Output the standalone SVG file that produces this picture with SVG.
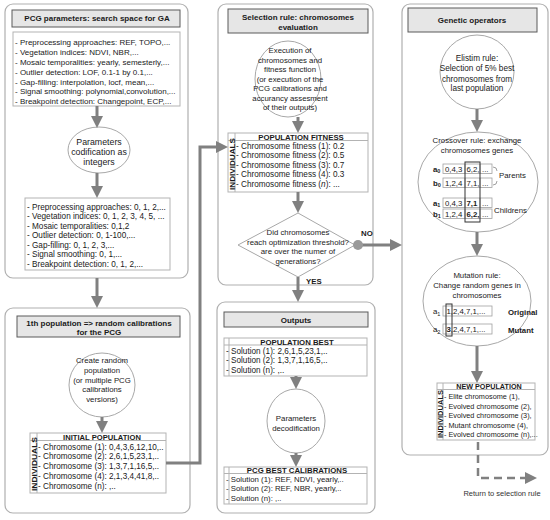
<svg xmlns="http://www.w3.org/2000/svg" width="550" height="520" viewBox="0 0 550 520">
<style>
text{font-family:"Liberation Sans",Arial,sans-serif;font-size:7.8px;fill:#1a1a1a}
.b{font-weight:bold}
.t{font-weight:bold;font-size:8px}
.c{text-anchor:middle}
.l1{font-size:8px}
.l2{font-size:8.2px}
.panel{fill:#fff;stroke:#b0b0b0;stroke-width:1.2}
.title{fill:#e6e6e6;stroke:#5a5a5a;stroke-width:1}
.box{fill:#fff;stroke:#b3b3b3;stroke-width:1}
.grid{stroke:#b3b3b3;stroke-width:1;fill:none}
.circ{fill:#fff;stroke:#a8a8a8;stroke-width:1}
.conn{stroke:#808080;stroke-width:3;fill:none}
.dash{stroke:#808080;stroke-width:2.5;fill:none;stroke-dasharray:8 5}
.gene{fill:#fff;stroke:#a0a0a0;stroke-width:0.8}
.hl{fill:none;stroke:#333;stroke-width:1}
.ind{font-weight:bold;font-size:8px;text-anchor:middle}
.sub{font-size:5.5px}
</style>
<defs>
<marker id="ah" markerUnits="userSpaceOnUse" markerWidth="12" markerHeight="12" viewBox="0 0 12 12" refX="3" refY="6" orient="auto">
<path d="M0,0 L12,6 L0,12 z" fill="#808080"/>
</marker>
</defs>

<g id="panel-params">
<rect class="panel" x="5" y="4" width="183" height="274" rx="8"/>
<rect class="title" x="12" y="10" width="168" height="17"/>
<text class="t c" x="97" y="21">PCG parameters: search space for GA</text>
</g>
<g id="params-list">
<rect class="box" x="13" y="32" width="167" height="74"/>
<text class="l1" x="15" y="45">- Preprocessing approaches: REF, TOPO,...</text>
<text class="l1" x="15" y="55">- Vegetation indices: NDVI, NBR,...</text>
<text class="l1" x="15" y="65">- Mosaic temporalities: yearly, semesterly,...</text>
<text class="l1" x="15" y="74.5">- Outlier detection: LOF, 0.1-1 by 0.1,...</text>
<text class="l1" x="15" y="84.5">- Gap-filling: interpolation, locf, mean,...</text>
<text class="l1" x="15" y="94">- Signal smoothing: polynomial,convolution,...</text>
<text class="l1" x="15" y="103.5">- Breakpoint detection: Changepoint, ECP,...</text>
</g>
<g id="codification">
<ellipse class="circ" cx="99" cy="150" rx="31" ry="23"/>
<text class="c" x="99" y="145" style="font-size:8.8px">Parameters</text>
<text class="c" x="99" y="155" style="font-size:8.8px">codification as</text>
<text class="c" x="99" y="165" style="font-size:8.8px">integers</text>
</g>
<g id="params-codes">
<rect class="box" x="25" y="198" width="145" height="72"/>
<text class="l2" x="27" y="210">- Preprocessing approaches: 0, 1, 2,...</text>
<text class="l2" x="27" y="219">- Vegetation indices: 0, 1, 2, 3, 4, 5, ...</text>
<text class="l2" x="27" y="228.5">- Mosaic temporalities: 0,1,2</text>
<text class="l2" x="27" y="238">- Outlier detection: 0, 1-100,...</text>
<text class="l2" x="27" y="247.5">- Gap-filling: 0, 1, 2, 3,...</text>
<text class="l2" x="27" y="257">- Signal smoothing: 0, 1,...</text>
<text class="l2" x="27" y="266.5">- Breakpoint detection: 0, 1, 2,...</text>
</g>

<g id="panel-first">
<rect class="panel" x="5" y="308" width="185" height="205" rx="8"/>
<rect class="title" x="17" y="316" width="163" height="21"/>
<text class="t c" x="99" y="326">1th population =&gt; random calibrations</text>
<text class="t c" x="99" y="335">for the PCG</text>
</g>
<g id="create-random">
<ellipse class="circ" cx="102" cy="385" rx="33" ry="32"/>
<text class="c" x="102" y="363">Create random</text>
<text class="c" x="102" y="373">population</text>
<text class="c" x="102" y="382.5">(or multiple PCG</text>
<text class="c" x="102" y="392">calibrations</text>
<text class="c" x="102" y="401.5">versions)</text>
</g>
<g id="initial-population">
<rect class="box" x="30" y="433" width="136" height="60"/>
<path class="grid" d="M30,440.5 H166 M37,433 V493"/>
<text class="b c" x="102" y="440" style="font-size:7.6px">INITIAL POPULATION</text>
<text class="ind" transform="translate(36.5,464) rotate(-90)" textLength="54" lengthAdjust="spacingAndGlyphs">INDIVIDUALS</text>
<text class="l2" x="38" y="449.5">- Chromosome (1): 0,4,3,6,12,10,..</text>
<text class="l2" x="38" y="459">- Chromosome (2): 2,6,1,5,23,1,..</text>
<text class="l2" x="38" y="469">- Chromosome (3): 1,3,7,1,16,5,..</text>
<text class="l2" x="38" y="479">- Chromosome (4): 2,1,3,4,41,8,..</text>
<text class="l2" x="38" y="489">- Chromosome (n): ,..</text>
</g>

<g id="panel-selection">
<rect class="panel" x="218" y="4" width="155" height="281" rx="8"/>
<rect class="title" x="228" y="9" width="140" height="24"/>
<text class="t c" x="298" y="20">Selection rule: chromosomes</text>
<text class="t c" x="298" y="30">evaluation</text>
</g>
<g id="fitness-exec">
<ellipse class="circ" cx="288" cy="79" rx="33" ry="38"/>
<text class="c" x="290" y="53">Execution of</text>
<text class="c" x="290" y="62.5">chromosomes and</text>
<text class="c" x="290" y="72">fitness function</text>
<text class="c" x="290" y="81.5">(or execution of the</text>
<text class="c" x="290" y="91">PCG calibrations and</text>
<text class="c" x="290" y="100.5">accurancy assesment</text>
<text class="c" x="290" y="110">of their outputs)</text>
</g>
<g id="population-fitness">
<rect class="box" x="228" y="133" width="140" height="59"/>
<path class="grid" d="M228,140.5 H368 M235,133 V192"/>
<text class="b c" x="301" y="140">POPULATION FITNESS</text>
<text class="ind" transform="translate(234.5,164) rotate(-90)" textLength="52" lengthAdjust="spacingAndGlyphs">INDIVIDUALS</text>
<text class="l2" x="236" y="148.5">- Chromosome fitness (1): 0.2</text>
<text class="l2" x="236" y="158">- Chromosome fitness (2): 0.5</text>
<text class="l2" x="236" y="167.5">- Chromosome fitness (3): 0.7</text>
<text class="l2" x="236" y="177">- Chromosome fitness (4): 0.3</text>
<text class="l2" x="236" y="186.5">- Chromosome fitness (<tspan font-style="italic">n</tspan>): ...</text>
</g>
<g id="decision">
<polygon class="circ" points="298,213 355,245 298,277 238,245"/>
<text class="c" x="298" y="235">Did chromosomes</text>
<text class="c" x="298" y="244.5">reach optimization threshold?</text>
<text class="c" x="298" y="254">are over the numer of</text>
<text class="c" x="298" y="263.5">generations?</text>
</g>

<g id="panel-outputs">
<rect class="panel" x="217" y="302" width="158" height="211" rx="8"/>
<rect class="title" x="224" y="312" width="144" height="15"/>
<text class="t c" x="296" y="322.5">Outputs</text>
</g>
<g id="population-best">
<rect class="box" x="224" y="338" width="143" height="38"/>
<path class="grid" d="M224,345 H367 M229,338 V376"/>
<text class="b c" x="297" y="344.5">POPULATION BEST</text>
<text class="l2" x="226" y="353.5">- Solution (1): 2,6,1,5,23,1,..</text>
<text class="l2" x="226" y="363">- Solution (2): 1,3,7,1,16,5,..</text>
<text class="l2" x="226" y="372.5">- Solution (n): ,..</text>
</g>
<g id="decodification">
<ellipse class="circ" cx="296" cy="421" rx="29" ry="32"/>
<text class="c" x="296" y="421">Parameters</text>
<text class="c" x="296" y="431">decodification</text>
</g>
<g id="best-calibrations">
<rect class="box" x="224" y="467" width="143" height="37"/>
<path class="grid" d="M224,473.5 H367 M229,467 V504"/>
<text class="b c" x="297" y="473">PCG BEST CALIBRATIONS</text>
<text x="226" y="481.5">- Solution (1): REF, NDVI, yearly,..</text>
<text x="226" y="491">- Solution (2): REF, NBR, yearly,..</text>
<text x="226" y="500.5">- Solution (n): ,..</text>
</g>

<g id="panel-genetic">
<rect class="panel" x="402" y="4" width="146" height="451" rx="8"/>
<rect class="title" x="408" y="8" width="129" height="24"/>
<text class="t c" x="472" y="23">Genetic operators</text>
</g>
<g id="elitism">
<ellipse class="circ" cx="477" cy="72" rx="37" ry="37"/>
<text class="c l2" x="477" y="61">Elistim rule:</text>
<text class="c l2" x="477" y="71">Selection of 5% best</text>
<text class="c l2" x="477" y="81.5">chromosomes from</text>
<text class="c l2" x="477" y="91">last population</text>
</g>
<g id="crossover">
<ellipse class="circ" cx="478" cy="182" rx="60" ry="50"/>
<text class="c" x="477" y="143">Crossover rule: exchange</text>
<text class="c" x="477" y="153">chromosomes genes</text>
<rect class="gene" x="443" y="164" width="49" height="9.5"/>
<rect class="gene" x="443" y="178" width="49" height="9.5"/>
<rect class="gene" x="443" y="198" width="49" height="9.5"/>
<rect class="gene" x="443" y="209" width="49" height="9.5"/>
<path class="gene" d="M465,164 V173.5 M480,164 V173.5 M465,178 V187.5 M480,178 V187.5 M465,198 V207.5 M480,198 V207.5 M465,209 V218.5 M480,209 V218.5"/>
<rect class="hl" x="465" y="162" width="15" height="60"/>
<text class="b" x="433" y="171.5">a<tspan class="sub" dy="1.5">0</tspan></text>
<text class="b" x="433" y="185.5">b<tspan class="sub" dy="1.5">0</tspan></text>
<text class="b" x="433" y="205.5">a<tspan class="sub" dy="1.5">1</tspan></text>
<text class="b" x="433" y="216.5">b<tspan class="sub" dy="1.5">1</tspan></text>
<text x="445" y="171.5">0,4,3</text><text x="466.5" y="171.5">6,2,</text><text x="482" y="171.5">...</text>
<text x="445" y="185.5">1,2,4</text><text x="466.5" y="185.5">7,1,</text><text x="482" y="185.5">...</text>
<text x="445" y="205.5">0,4,3</text><text class="b" x="466.5" y="205.5">7,1</text><text x="482" y="205.5">...</text>
<text x="445" y="216.5">1,2,4</text><text class="b" x="466.5" y="216.5">6,2,</text><text x="482" y="216.5">...</text>
<path d="M493,167 Q497,167 497,171 M493,185 Q497,185 497,181" stroke="#888" stroke-width="0.8" fill="none"/>
<text x="499" y="178">Parents</text>
<text x="494" y="213">Childrens</text>
</g>
<g id="mutation">
<ellipse class="circ" cx="477" cy="301" rx="54" ry="45"/>
<text class="c" x="477" y="278">Mutation rule:</text>
<text class="c" x="477" y="288">Change random genes in</text>
<text class="c" x="477" y="298">chromosomes</text>
<rect class="gene" x="443" y="306" width="49" height="10"/>
<rect class="gene" x="443" y="324" width="49" height="10"/>
<rect class="hl" x="446" y="304" width="6" height="32"/>
<text x="433" y="314">a<tspan class="sub" dy="1.5">1</tspan></text>
<text x="433" y="332">a<tspan class="sub" dy="1.5">2</tspan></text>
<text x="446.5" y="314">1,2,4,7,1,...</text>
<text x="446.5" y="332"><tspan font-weight="bold">3</tspan>,2,4,7,1,...</text>
<text class="b" x="508" y="315">Original</text>
<text class="b" x="508" y="333">Mutant</text>
</g>
<g id="new-population">
<rect class="box" x="437" y="383" width="98" height="57"/>
<path class="grid" d="M437,389.5 H535 M443,383 V440"/>
<text class="b c" x="489" y="389" style="font-size:7.2px">NEW POPULATION</text>
<text class="ind" transform="translate(442.5,414) rotate(-90)" textLength="48" lengthAdjust="spacingAndGlyphs">INDIVIDUALS</text>
<text x="444" y="399" style="font-size:7.3px">- Elite chromosome (1),</text>
<text x="444" y="408.5" style="font-size:7.3px">- Evolved chromosome (2),</text>
<text x="444" y="418" style="font-size:7.3px">- Evolved chromosome (3),</text>
<text x="444" y="427.5" style="font-size:7.3px">- Mutant chromosome (4),</text>
<text x="444" y="437" style="font-size:7.3px">- Evolved chromosome (n),...</text>
</g>

<g id="connectors">
<path class="conn" marker-end="url(#ah)" d="M97,106 V119"/>
<path class="conn" marker-end="url(#ah)" d="M97,173 V189"/>
<path class="conn" marker-end="url(#ah)" d="M97,278 V299"/>
<path class="conn" marker-end="url(#ah)" d="M102,417 V424"/>
<path class="conn" marker-end="url(#ah)" d="M166,463 H200 V147 H219"/>
<path class="conn" marker-end="url(#ah)" d="M298,117 V124"/>
<path class="conn" marker-end="url(#ah)" d="M298,192 V204"/>
<path class="conn" marker-end="url(#ah)" d="M298,277 V293"/>
<path class="conn" marker-end="url(#ah)" d="M358,245 H393"/>
<circle cx="358" cy="245" r="5" fill="#999"/>
<path class="conn" marker-end="url(#ah)" d="M296,376 V380"/>
<path class="conn" marker-end="url(#ah)" d="M296,453 V458"/>
<path class="conn" marker-end="url(#ah)" d="M477,109 V123"/>
<path class="conn" marker-end="url(#ah)" d="M477,232 V247"/>
<path class="conn" marker-end="url(#ah)" d="M477,346 V374"/>
<path class="dash" marker-end="url(#ah)" d="M478,442 V478 H528"/>
<text class="b" x="361" y="236">NO</text>
<text class="b" x="306" y="284">YES</text>
<text class="c" x="502" y="496" style="font-size:7.5px;fill:#333">Return to selection rule</text>
</g>
</svg>
